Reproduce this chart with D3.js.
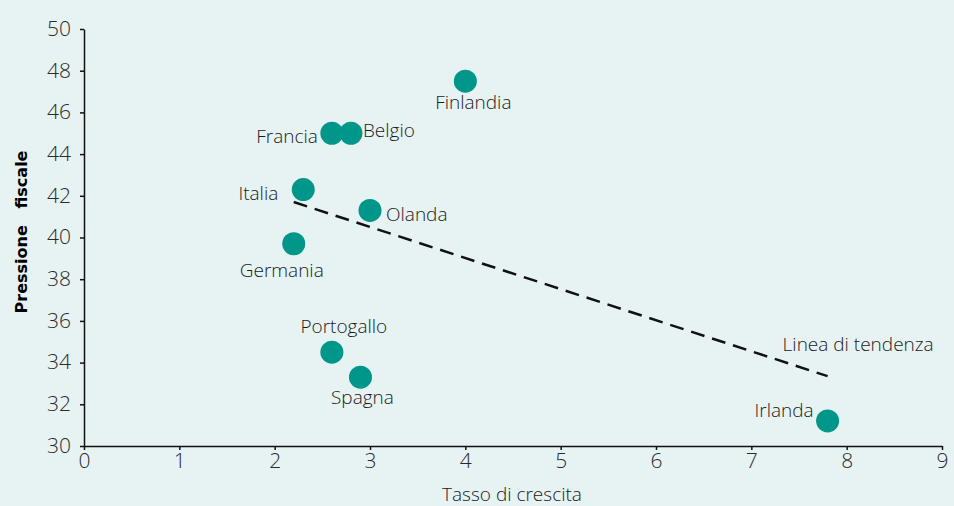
<!DOCTYPE html>
<html>
<head>
<meta charset="utf-8">
<script src="https://cdn.jsdelivr.net/npm/d3@7"></script>
<style>
  body { margin: 0; background: #e7f3f3; }
  svg { display: block; }
  .tick text { font-family: "Open Sans", "Lato", sans-serif; font-weight: 300; fill: #2a2a2a; }
  .lbl { font-family: "Open Sans", "Lato", sans-serif; font-weight: 300; font-size: 19px; fill: #1a1a1a; }
</style>
</head>
<body>
<div id="chart"></div>
<script>
// dati
const countries = ["Finlandia", "Francia", "Belgio", "Italia", "Olanda", "Germania", "Portogallo", "Spagna", "Irlanda"];
const growth = [4.0, 2.6, 2.8, 2.3, 3.0, 2.2, 2.6, 2.9, 7.8];
const taxBurden = [47.5, 45.0, 45.0, 42.3, 41.3, 39.7, 34.5, 33.3, 31.2];
const trendX = [2.2, 7.8];
const trendY = [41.7, 33.35];
const xTicks = [0, 1, 2, 3, 4, 5, 6, 7, 8, 9];
const yTicks = [30, 32, 34, 36, 38, 40, 42, 44, 46, 48, 50];

// where each label sits relative to its dot
const labelPos = {
  "Finlandia":  { anchor: "middle", dx: 8,   dy: 28 },
  "Francia":    { anchor: "end",    dx: -14, dy: 10 },
  "Belgio":     { anchor: "start",  dx: 12,  dy: 4 },
  "Italia":     { anchor: "end",    dx: -25, dy: 10 },
  "Olanda":     { anchor: "start",  dx: 16,  dy: 11 },
  "Germania":   { anchor: "middle", dx: -12, dy: 33 },
  "Portogallo": { anchor: "middle", dx: 12,  dy: -19 },
  "Spagna":     { anchor: "middle", dx: 2,   dy: 27 },
  "Irlanda":    { anchor: "end",    dx: -14, dy: -4 }
};

const W = 954, H = 506;
const margin = { top: 29, right: 12, bottom: 60, left: 84 };

const svg = d3.select("#chart").append("svg")
  .attr("width", W).attr("height", H);

svg.append("rect").attr("width", W).attr("height", H).attr("fill", "#e7f3f3");

const x = d3.scaleLinear().domain([0, 9]).range([margin.left, W - margin.right]);
const y = d3.scaleLinear().domain([30, 50]).range([H - margin.bottom, margin.top]);

const xAxis = svg.append("g")
  .attr("transform", "translate(0," + (H - margin.bottom) + ")")
  .call(d3.axisBottom(x).tickValues(xTicks).tickSize(4).tickSizeOuter(0).tickPadding(3));
xAxis.selectAll("text").style("font-size", "21px");

const yAxis = svg.append("g")
  .attr("transform", "translate(" + margin.left + ",0)")
  .call(d3.axisLeft(y).tickValues(yTicks).tickSize(4).tickSizeOuter(0).tickPadding(9));
yAxis.selectAll("text").style("font-size", "21px").attr("dy", "0.3em");

svg.selectAll(".domain, .tick line").attr("stroke", "#111").attr("stroke-width", 1.5);

// trend line
svg.append("line")
  .attr("x1", x(trendX[0])).attr("y1", y(trendY[0]))
  .attr("x2", x(trendX[1])).attr("y2", y(trendY[1]))
  .attr("stroke", "#111")
  .attr("stroke-width", 2.5)
  .attr("stroke-dasharray", "14 8");

svg.append("text").attr("class", "lbl")
  .attr("x", x(trendX[1]) - 45).attr("y", y(trendY[1]) - 25)
  .text("Linea di tendenza");

// dots
svg.selectAll("circle.pt")
  .data(countries)
  .join("circle")
  .attr("class", "pt")
  .attr("cx", (d, i) => x(growth[i]))
  .attr("cy", (d, i) => y(taxBurden[i]))
  .attr("r", 11.5)
  .attr("fill", "#00968a");

svg.selectAll("text.name")
  .data(countries)
  .join("text")
  .attr("class", "lbl name")
  .attr("x", (d, i) => x(growth[i]) + labelPos[d].dx)
  .attr("y", (d, i) => y(taxBurden[i]) + labelPos[d].dy)
  .attr("text-anchor", d => labelPos[d].anchor)
  .text(d => d);

// axis titles
svg.append("text").attr("class", "lbl")
  .attr("x", 512).attr("y", 501)
  .attr("text-anchor", "middle")
  .text("Tasso di crescita");

svg.append("text")
  .attr("transform", "translate(27,232) rotate(-90)")
  .attr("text-anchor", "middle")
  .style("font-family", "'DejaVu Sans', sans-serif")
  .style("font-weight", "bold")
  .style("font-size", "16px")
  .attr("fill", "#000")
  .attr("xml:space", "preserve")
  .text("Pressione   fiscale");
</script>
</body>
</html>
